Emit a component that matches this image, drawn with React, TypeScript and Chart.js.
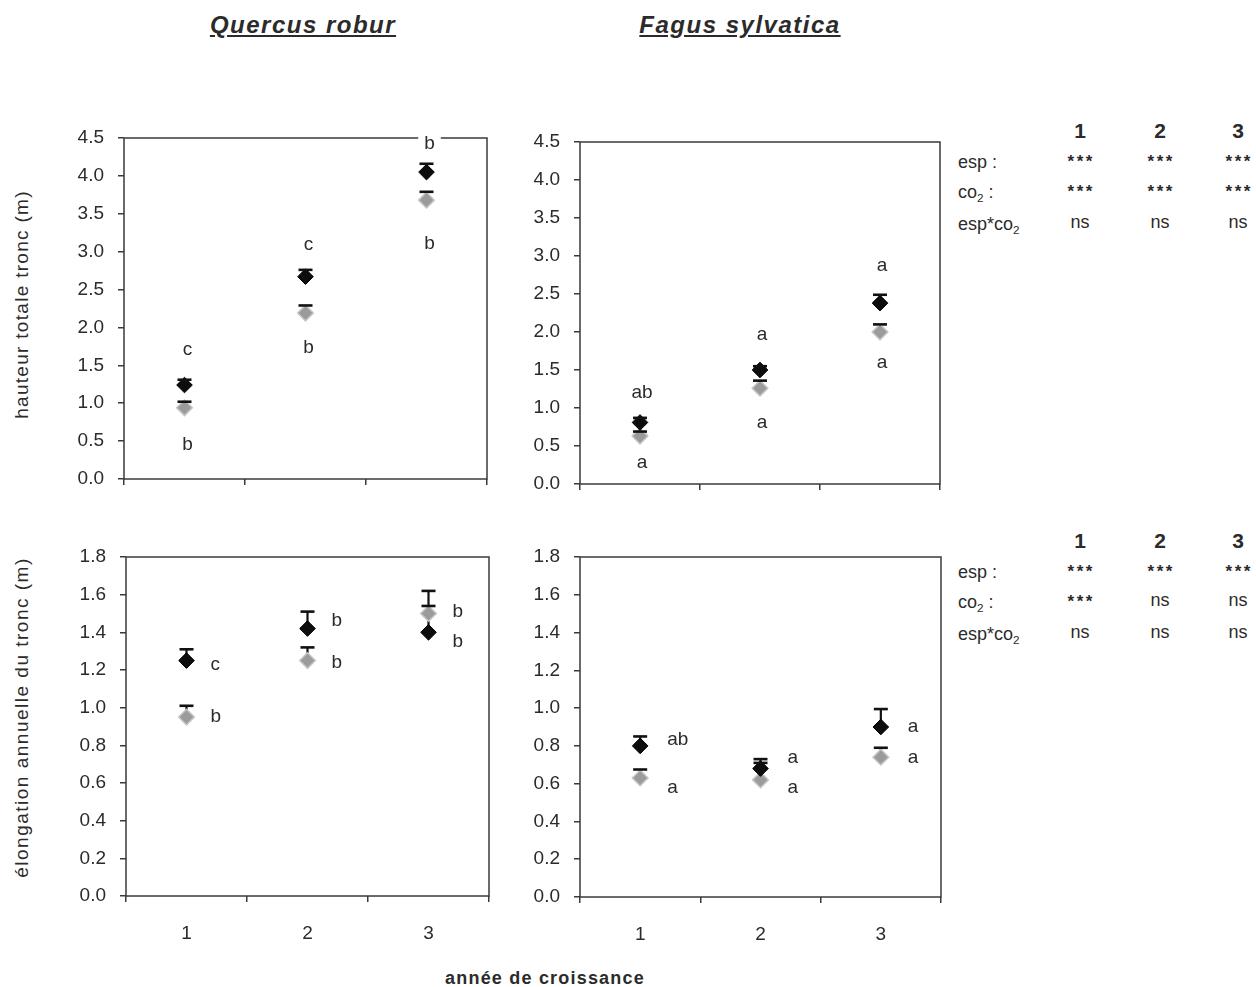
import React, { useEffect, useRef } from 'react';
import { Chart, registerables } from 'chart.js';

Chart.register(...registerables);

// ---------- data ----------
const years = ['1', '2', '3'];

// Quercus robur – hauteur totale tronc (m)
const qrHeightBlack = [1.24, 2.67, 4.05];
const qrHeightBlackErr = [0.07, 0.09, 0.11];
const qrHeightGray = [0.94, 2.19, 3.68];
const qrHeightGrayErr = [0.08, 0.1, 0.11];
const qrHeightLettersTop = ['c', 'c', 'b'];
const qrHeightLettersTopY = [1.7, 3.09, 4.43];
const qrHeightLettersBottom = ['b', 'b', 'b'];
const qrHeightLettersBottomY = [0.45, 1.73, 3.11];

// Fagus sylvatica – hauteur totale tronc (m)
const fsHeightBlack = [0.81, 1.5, 2.38];
const fsHeightBlackErr = [0.06, 0.05, 0.11];
const fsHeightGray = [0.63, 1.26, 2.0];
const fsHeightGrayErr = [0.06, 0.1, 0.1];
const fsHeightLettersTop = ['ab', 'a', 'a'];
const fsHeightLettersTopY = [1.2, 1.96, 2.87];
const fsHeightLettersBottom = ['a', 'a', 'a'];
const fsHeightLettersBottomY = [0.28, 0.81, 1.59];

// Quercus robur – élongation annuelle du tronc (m)
const qrElongBlack = [1.25, 1.42, 1.4];
const qrElongBlackErr = [0.06, 0.09, 0.14];
const qrElongGray = [0.95, 1.25, 1.5];
const qrElongGrayErr = [0.06, 0.07, 0.12];
const qrElongLettersBlack = ['c', 'b', 'b'];
const qrElongLettersBlackY = [1.23, 1.46, 1.35];
const qrElongLettersGray = ['b', 'b', 'b'];
const qrElongLettersGrayY = [0.95, 1.24, 1.51];

// Fagus sylvatica – élongation annuelle du tronc (m)
const fsElongBlack = [0.8, 0.68, 0.9];
const fsElongBlackErr = [0.05, 0.05, 0.095];
const fsElongGray = [0.63, 0.62, 0.74];
const fsElongGrayErr = [0.045, 0.09, 0.05];
const fsElongLettersBlack = ['ab', 'a', 'a'];
const fsElongLettersBlackY = [0.83, 0.735, 0.9];
const fsElongLettersGray = ['a', 'a', 'a'];
const fsElongLettersGrayY = [0.58, 0.577, 0.735];

// statistics tables
const statCols = ['1', '2', '3'];
const statRows = ['esp :', 'co2 :', 'esp*co2'];
const statsHeight = [
  ['***', '***', '***'],
  ['***', '***', '***'],
  ['ns', 'ns', 'ns'],
];
const statsElong = [
  ['***', '***', '***'],
  ['***', 'ns', 'ns'],
  ['ns', 'ns', 'ns'],
];

// ---------- drawing ----------
const FONT = '"Liberation Sans", Arial, Helvetica, sans-serif';
const TEXT = '#2b2b2b';

type LetterSet = { texts: string[]; ys: number[] };

type PanelProps = {
  left: number;
  top: number;
  width: number;
  height: number;
  yAxisWidth: number;
  xAxisHeight: number;
  padTop: number;
  padRight: number;
  max: number;
  step: number;
  showX: boolean;
  black: number[];
  blackErr: number[];
  gray: number[];
  grayErr: number[];
  letters: LetterSet[];
  letterDx: number;
  letterAlign: 'left' | 'center';
};

function makePlugin(p: PanelProps) {
  return {
    id: 'errAndLetters',
    beforeDatasetsDraw(chart: any) {
      const ctx = chart.ctx;
      const a = chart.chartArea;
      ctx.save();
      ctx.strokeStyle = '#3a3a3a';
      ctx.lineWidth = 1.5;
      ctx.strokeRect(a.left, a.top, a.right - a.left, a.bottom - a.top);
      const xs = chart.scales.x;
      const ys = chart.scales.y;
      ctx.strokeStyle = '#111';
      ctx.lineWidth = 2.2;
      chart.data.datasets.forEach((ds: any) => {
        ds.data.forEach((v: number, i: number) => {
          const x = xs.getPixelForValue(i);
          ctx.beginPath();
          ctx.moveTo(x, ys.getPixelForValue(v));
          ctx.lineTo(x, ys.getPixelForValue(v + ds.errUp[i]));
          ctx.stroke();
        });
      });
      ctx.restore();
    },
    afterDatasetsDraw(chart: any) {
      const ctx = chart.ctx;
      const xs = chart.scales.x;
      const ys = chart.scales.y;
      ctx.save();
      ctx.strokeStyle = '#111';
      ctx.lineWidth = 2.6;
      chart.data.datasets.forEach((ds: any) => {
        ds.data.forEach((v: number, i: number) => {
          const x = xs.getPixelForValue(i);
          const y = ys.getPixelForValue(v + ds.errUp[i]);
          ctx.beginPath();
          ctx.moveTo(x - 7, y);
          ctx.lineTo(x + 7, y);
          ctx.stroke();
        });
      });
      ctx.font = `19px ${FONT}`;
      ctx.textBaseline = 'middle';
      ctx.textAlign = p.letterAlign;
      p.letters.forEach((set) => {
        set.texts.forEach((t, i) => {
          const x = xs.getPixelForValue(i) + p.letterDx;
          const y = ys.getPixelForValue(set.ys[i]);
          const w = ctx.measureText(t).width;
          const x0 = p.letterAlign === 'center' ? x - w / 2 : x;
          ctx.fillStyle = '#fff';
          ctx.fillRect(x0 - 6, y - 9, w + 12, 18);
          ctx.fillStyle = TEXT;
          ctx.fillText(t, x, y);
        });
      });
      ctx.restore();
    },
  };
}

function Panel(p: PanelProps) {
  const ref = useRef<HTMLCanvasElement | null>(null);
  useEffect(() => {
    if (!ref.current) return;
    const chart = new Chart(ref.current, {
      type: 'line',
      data: {
        labels: years,
        datasets: [
          {
            label: 'black',
            data: p.black,
            errUp: p.blackErr,
            showLine: false,
            pointStyle: 'rectRot',
            pointRadius: 7.8,
            backgroundColor: '#0d0d0d',
            borderColor: '#000',
            borderWidth: 1,
          } as any,
          {
            label: 'gray',
            data: p.gray,
            errUp: p.grayErr,
            showLine: false,
            pointStyle: 'rectRot',
            pointRadius: 7.8,
            backgroundColor: '#9b9b9b',
            borderColor: '#c4c4c4',
            borderWidth: 1.5,
          } as any,
        ],
      },
      options: {
        animation: false,
        responsive: false,
        events: [],
        layout: { padding: { top: p.padTop, right: p.padRight, left: 0, bottom: 0 } },
        plugins: { legend: { display: false }, tooltip: { enabled: false }, title: { display: false } },
        scales: {
          x: {
            type: 'category',
            offset: true,
            border: { display: false },
            grid: { offset: true, drawOnChartArea: false, drawTicks: true, tickLength: 6, color: '#3a3a3a', lineWidth: 1.5 },
            ticks: { display: p.showX, color: TEXT, font: { family: FONT, size: 19 }, padding: 20, maxRotation: 0 },
            afterFit: (s: any) => {
              s.height = p.xAxisHeight;
              s.paddingLeft = 0;
              s.paddingRight = 0;
            },
          },
          y: {
            type: 'linear',
            min: 0,
            max: p.max,
            border: { display: false },
            grid: { drawOnChartArea: false, drawTicks: true, tickLength: 6, color: '#3a3a3a', lineWidth: 1.5 },
            ticks: {
              stepSize: p.step,
              color: TEXT,
              font: { family: FONT, size: 19 },
              padding: 14,
              callback: (v: any) => Number(v).toFixed(1),
            },
            afterFit: (s: any) => {
              s.width = p.yAxisWidth;
              s.paddingTop = 0;
              s.paddingBottom = 0;
            },
          },
        },
      } as any,
      plugins: [makePlugin(p)],
    });
    return () => chart.destroy();
  }, []);
  return (
    <canvas
      ref={ref}
      width={p.width}
      height={p.height}
      style={{ position: 'absolute', left: p.left, top: p.top, width: p.width, height: p.height }}
    />
  );
}

const abs = (extra: React.CSSProperties): React.CSSProperties => ({
  position: 'absolute',
  lineHeight: 1,
  whiteSpace: 'nowrap',
  color: TEXT,
  fontFamily: FONT,
  ...extra,
});

function Label({ text }: { text: string }) {
  if (text.includes('co2')) {
    const parts = text.split('co2');
    return (
      <>
        {parts[0]}co<sub style={{ fontSize: '0.65em', verticalAlign: '-0.3em' }}>2</sub>{parts[1]}
      </>
    );
  }
  return <>{text}</>;
}

function StatTable({ top, values }: { top: number; values: string[][] }) {
  const colX = [1080, 1160, 1238];
  const rowCenters = [top + 33, top + 63, top + 95];
  return (
    <>
      {statCols.map((c, i) => (
        <div key={'h' + i} style={abs({ left: colX[i] - 20, width: 40, textAlign: 'center', top: top - 10, fontSize: 21, fontWeight: 'bold' })}>
          {c}
        </div>
      ))}
      {statRows.map((r, j) => (
        <div key={'r' + j} style={abs({ left: 958, top: rowCenters[j] - 10, fontSize: 18 })}>
          <Label text={r} />
        </div>
      ))}
      {values.map((row, j) =>
        row.map((v, i) =>
          v === 'ns' ? (
            <div key={`v${j}${i}`} style={abs({ left: colX[i] - 30, width: 60, textAlign: 'center', top: rowCenters[j] - 2 - 10, fontSize: 18 })}>
              {v}
            </div>
          ) : (
            <div key={`v${j}${i}`} style={abs({ left: colX[i] - 30, width: 60, textAlign: 'center', top: rowCenters[j] - 6 - 4.5, fontSize: 17, letterSpacing: 2.5, textIndent: 2.5, fontWeight: 'bold' })}>
              {v}
            </div>
          )
        )
      )}
    </>
  );
}

export default function App() {
  return (
    <div style={{ position: 'absolute', left: 0, top: 0, width: 1256, height: 987, background: '#fff', overflow: 'hidden' }}>
      <div style={abs({ left: 153, width: 300, textAlign: 'center', top: 13, fontSize: 24, fontWeight: 'bold', fontStyle: 'italic', textDecoration: 'underline', letterSpacing: 1.5 })}>
        Quercus robur
      </div>
      <div style={abs({ left: 590, width: 300, textAlign: 'center', top: 13, fontSize: 24, fontWeight: 'bold', fontStyle: 'italic', textDecoration: 'underline', letterSpacing: 1.5 })}>
        Fagus sylvatica
      </div>

      <div style={abs({ left: 21 - 200, width: 400, top: 305 - 10, textAlign: 'center', fontSize: 19, letterSpacing: 1.3, transform: 'rotate(-90deg)' })}>
        hauteur totale tronc (m)
      </div>
      <div style={abs({ left: 21 - 200, width: 400, top: 718 - 10, textAlign: 'center', fontSize: 19, letterSpacing: 1.5, transform: 'rotate(-90deg)' })}>
        élongation annuelle du tronc (m)
      </div>
      <div style={abs({ left: 345, width: 400, textAlign: 'center', top: 969, fontSize: 18, fontWeight: 'bold', letterSpacing: 1.2 })}>
        année de croissance
      </div>

      <Panel
        left={30} top={120} width={470} height={380}
        yAxisWidth={94} xAxisHeight={21} padTop={18} padRight={13}
        max={4.5} step={0.5} showX={false}
        black={qrHeightBlack} blackErr={qrHeightBlackErr}
        gray={qrHeightGray} grayErr={qrHeightGrayErr}
        letters={[
          { texts: qrHeightLettersTop, ys: qrHeightLettersTopY },
          { texts: qrHeightLettersBottom, ys: qrHeightLettersBottomY },
        ]}
        letterDx={3} letterAlign="center"
      />
      <Panel
        left={486} top={120} width={470} height={380}
        yAxisWidth={94} xAxisHeight={16} padTop={22} padRight={16}
        max={4.5} step={0.5} showX={false}
        black={fsHeightBlack} blackErr={fsHeightBlackErr}
        gray={fsHeightGray} grayErr={fsHeightGrayErr}
        letters={[
          { texts: fsHeightLettersTop, ys: fsHeightLettersTopY },
          { texts: fsHeightLettersBottom, ys: fsHeightLettersBottomY },
        ]}
        letterDx={2} letterAlign="center"
      />
      <Panel
        left={30} top={540} width={470} height={420}
        yAxisWidth={96} xAxisHeight={64} padTop={17} padRight={11}
        max={1.8} step={0.2} showX={true}
        black={qrElongBlack} blackErr={qrElongBlackErr}
        gray={qrElongGray} grayErr={qrElongGrayErr}
        letters={[
          { texts: qrElongLettersBlack, ys: qrElongLettersBlackY },
          { texts: qrElongLettersGray, ys: qrElongLettersGrayY },
        ]}
        letterDx={24} letterAlign="left"
      />
      <Panel
        left={486} top={540} width={470} height={420}
        yAxisWidth={94} xAxisHeight={63} padTop={17} padRight={15}
        max={1.8} step={0.2} showX={true}
        black={fsElongBlack} blackErr={fsElongBlackErr}
        gray={fsElongGray} grayErr={fsElongGrayErr}
        letters={[
          { texts: fsElongLettersBlack, ys: fsElongLettersBlackY },
          { texts: fsElongLettersGray, ys: fsElongLettersGrayY },
        ]}
        letterDx={27} letterAlign="left"
      />

      <StatTable top={130} values={statsHeight} />
      <StatTable top={540} values={statsElong} />
    </div>
  );
}
